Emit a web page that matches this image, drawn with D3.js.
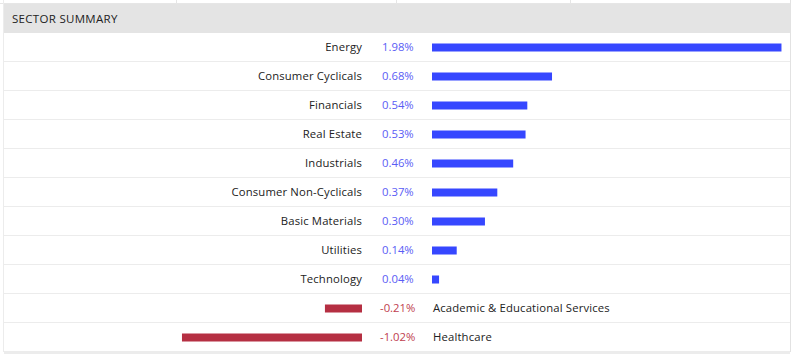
<!DOCTYPE html>
<html>
<head>
<meta charset="utf-8">
<script src="https://cdn.jsdelivr.net/npm/d3@7"></script>
<style>
  body { margin: 0; background: #fff; }
  #chart { width: 795px; height: 354px; }
  text { font-family: 'Open Sans', sans-serif; }
</style>
</head>
<body>
<div id="chart"></div>
<script>
const sectors = ['Energy', 'Consumer Cyclicals', 'Financials', 'Real Estate', 'Industrials',
  'Consumer Non-Cyclicals', 'Basic Materials', 'Utilities', 'Technology',
  'Academic & Educational Services', 'Healthcare']
const changes = [1.98, 0.68, 0.54, 0.53, 0.46, 0.37, 0.30, 0.14, 0.04, -0.21, -1.02]

const drawSummary = () => {
  const id = '#chart'
  const width = 795
  const height = 354

  const headerTop = 4
  const headerHeight = 29
  const rowHeight = 29
  const zeroRight = 432 // start of positive bars
  const zeroLeft = 362 // end of negative bars
  const pxPerPct = 176.5

  const svg = d3.select(id).append('svg')
    .attr('width', width)
    .attr('height', height)

  // faint frame of surrounding table
  svg.append('line')
    .attr('x1', 0).attr('x2', 791).attr('y1', 3.5).attr('y2', 3.5)
    .attr('stroke', '#e6e6e6')
  ;[176.5, 396.5, 570.5].forEach(x => {
    svg.append('line')
      .attr('x1', x).attr('x2', x).attr('y1', 0).attr('y2', 4)
      .attr('stroke', '#e6e6e6')
  })
  svg.append('line')
    .attr('x1', 3.5).attr('x2', 3.5).attr('y1', 0).attr('y2', 352)
    .attr('stroke', '#ececec')
  svg.append('line')
    .attr('x1', 790.5).attr('x2', 790.5).attr('y1', 0).attr('y2', 352)
    .attr('stroke', '#e2e2e2')

  // header
  svg.append('rect')
    .attr('x', 4).attr('y', headerTop)
    .attr('width', 786).attr('height', headerHeight)
    .attr('fill', '#e4e4e4')
  svg.append('text')
    .attr('x', 12).attr('y', headerTop + headerHeight / 2)
    .attr('dy', '0.35em')
    .attr('font-size', 11.5)
    .attr('letter-spacing', 0.3)
    .attr('fill', '#222')
    .text('SECTOR SUMMARY')

  const y = d3.scaleBand()
    .domain(sectors)
    .range([headerTop + headerHeight, headerTop + headerHeight + rowHeight * sectors.length])

  const len = d3.scaleLinear()
    .domain([0, 1])
    .range([0, pxPerPct])

  const rows = svg.append('g')
    .selectAll('g')
    .data(sectors.map((s, i) => ({ name: s, value: changes[i] })))
    .join('g')
    .attr('transform', d => `translate(0, ${y(d.name)})`)

  // row separators
  rows.append('line')
    .attr('x1', 4).attr('x2', 790)
    .attr('y1', rowHeight - 0.5).attr('y2', rowHeight - 0.5)
    .attr('stroke', '#ececec')

  const mid = rowHeight / 2

  rows.append('rect')
    .attr('x', d => d.value >= 0 ? zeroRight : zeroLeft - len(-d.value))
    .attr('y', mid - 4)
    .attr('width', d => len(Math.abs(d.value)))
    .attr('height', 8)
    .attr('fill', d => d.value >= 0 ? '#3647ff' : '#b52f42')

  rows.append('text')
    .attr('x', d => d.value >= 0 ? 382 : 380)
    .attr('y', mid)
    .attr('dy', '0.35em')
    .attr('font-size', 11.3)
    .attr('fill', d => d.value >= 0 ? '#5a5cf5' : '#c0404e')
    .text(d => d.value.toFixed(2) + '%')

  rows.append('text')
    .attr('x', d => d.value >= 0 ? zeroLeft : 433)
    .attr('y', mid)
    .attr('dy', '0.35em')
    .attr('text-anchor', d => d.value >= 0 ? 'end' : 'start')
    .attr('font-size', 11.3)
    .attr('letter-spacing', 0.15)
    .attr('fill', '#222')
    .text(d => d.name)

  // bottom band
  svg.append('rect')
    .attr('x', 4).attr('y', 351)
    .attr('width', 786).attr('height', 3)
    .attr('fill', '#ececec')
}

drawSummary()
</script>
</body>
</html>
